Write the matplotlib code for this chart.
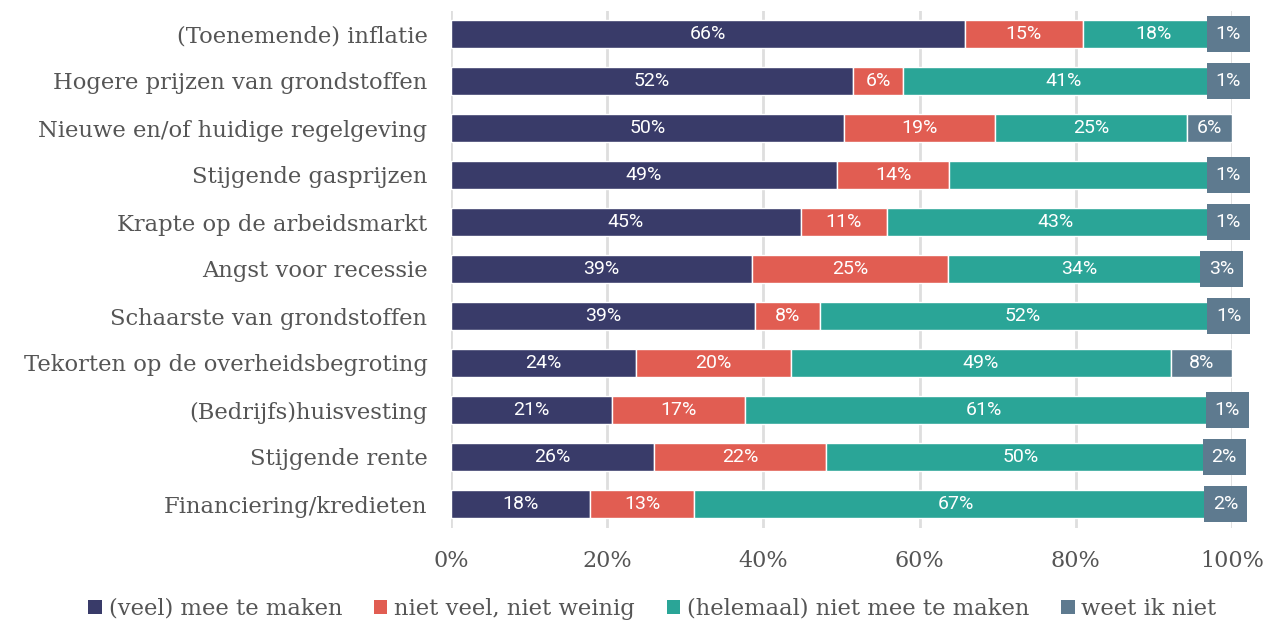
import numpy as np
import matplotlib.pyplot as plt
from matplotlib.patches import Patch

categories = [
    "(Toenemende) inflatie",
    "Hogere prijzen van grondstoffen",
    "Nieuwe en/of huidige regelgeving",
    "Stijgende gasprijzen",
    "Krapte op de arbeidsmarkt",
    "Angst voor recessie",
    "Schaarste van grondstoffen",
    "Tekorten op de overheidsbegroting",
    "(Bedrijfs)huisvesting",
    "Stijgende rente",
    "Financiering/kredieten",
]

veel = [65.8, 51.5, 50.3, 49.4, 44.8, 38.6, 38.9, 23.7, 20.6, 26.0, 17.8]
niet_veel = [15.1, 6.4, 19.4, 14.4, 11.0, 25.0, 8.3, 19.8, 17.0, 22.0, 13.3]
helemaal_niet = [18.2, 41.2, 24.6, 35.3, 43.3, 33.8, 52.0, 48.7, 61.2, 50.0, 67.2]
weet_niet = [0.9, 0.9, 5.7, 0.9, 0.9, 2.6, 0.8, 7.8, 1.2, 2.0, 1.7]

series_names = ["(veel) mee te maken", "niet veel, niet weinig",
                "(helemaal) niet mee te maken", "weet ik niet"]
colors = ["#393b69", "#e15d52", "#2aa597", "#5e7a8f"]

# the teal label of "Stijgende gasprijzen" is not shown in the original
hidden = {(3, 2)}

serif = "DejaVu Serif"
grey = "#555555"

fig = plt.figure(figsize=(12.67, 6.26), dpi=100)
ax = fig.add_axes([451 / 1267, 1 - 527.5 / 626, (1232 - 451) / 1267, 517 / 626])

y = np.arange(len(categories))
data = [veel, niet_veel, helemaal_niet, weet_niet]
left = np.zeros(len(categories))
for s, (vals, col) in enumerate(zip(data, colors)):
    vals = np.array(vals)
    ax.barh(y, vals, left=left, height=0.58, color=col, edgecolor="white",
            linewidth=1, zorder=2)
    for i, v in enumerate(vals):
        if (i, s) in hidden:
            continue
        cx = left[i] + v / 2
        txt = f"{round(v):.0f}%"
        # small segments get a label box in the segment colour
        box = None
        if v < 4:
            box = dict(boxstyle="square,pad=0.45", fc=col, ec="none")
        ax.text(cx, i, txt, ha="center", va="center", color="white",
                fontsize=14, family="Roboto", zorder=4, bbox=box)
    left += vals

ax.set_xlim(0, 100)
ax.set_ylim(len(categories) - 0.5, -0.5)
ax.set_xticks(np.arange(0, 101, 20))
ax.set_xticklabels([f"{t}%" for t in range(0, 101, 20)], family=serif,
                   fontsize=16, color=grey)
ax.set_yticks(y)
ax.set_yticklabels(categories, family=serif, fontsize=16.3, color=grey)
ax.tick_params(axis="both", length=0)
ax.tick_params(axis="x", pad=16)
ax.tick_params(axis="y", pad=17)
ax.grid(axis="x", color="#dedede", linewidth=2, zorder=0)
ax.set_axisbelow(True)
for sp in ax.spines.values():
    sp.set_visible(False)

handles = [Patch(facecolor=c, label=n) for c, n in zip(colors, series_names)]
fig.legend(handles=handles, loc="center", bbox_to_anchor=(0.515, 1 - 609 / 626),
           ncol=4, frameon=False, prop={"family": serif, "size": 16.3},
           labelcolor=grey, handlelength=0.6, handleheight=0.6,
           handletextpad=0.3, columnspacing=1.4)

fig.savefig("out.png", dpi=100)
